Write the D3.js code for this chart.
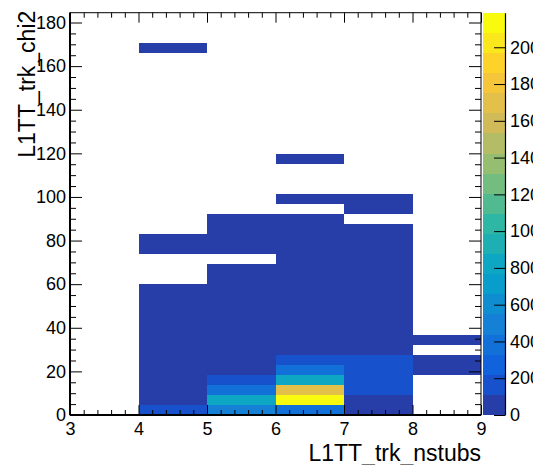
<!doctype html>
<html>
  <head>
    <script src="https://cdn.jsdelivr.net/npm/d3@7/dist/d3.min.js"></script>
    <style>
      body { margin: 0; background: #fff; }
      text { font-family: "Liberation Sans", Arial, Helvetica, sans-serif; fill: #000; }
    </style>
  </head>
  <body>
    <div id="viz">
      <svg width="533" height="465"></svg>
    </div>
    <script>
      // x bins: nstubs lower edges (bin width 1)
      var nstubs = [4, 5, 6, 7, 8];
      // y bins: 40 chi2 bins from 0 to chi2Max, counts listed from chi2 = 0 upward
      var chi2Max = 184.5;
      var chi2Bins = 40;
      var counts4 = [160, 95, 70, 48, 33, 24, 17, 12, 9, 7, 5, 4, 3, 0, 0, 0, 1, 1,
                     0, 0, 0, 0, 0, 0, 0, 0, 0, 0, 0, 0, 0, 0, 0, 0, 0, 0, 1];
      var counts5 = [480, 830, 390, 170, 90, 55, 36, 24, 16, 11, 8, 6, 4, 3, 2, 0, 2, 1, 1, 1];
      var counts6 = [370, 2188, 1700, 830, 400, 175, 95, 62, 40, 27, 19, 13, 9, 7, 5, 4,
                     3, 2, 2, 1, 0, 1, 0, 0, 0, 1];
      var counts7 = [60, 100, 150, 140, 130, 115, 80, 50, 32, 21, 14, 10, 7, 5, 4, 3,
                     2, 2, 1, 0, 1, 1];
      var counts8 = [0, 0, 0, 0, 30, 12, 0, 3];
      var counts = [counts4, counts5, counts6, counts7, counts8];

      var xTicks = [3, 4, 5, 6, 7, 8, 9];
      var yTicks = [0, 20, 40, 60, 80, 100, 120, 140, 160, 180];
      var zTicks = [0, 200, 400, 600, 800, 1000, 1200, 1400, 1600, 1800, 2000];
      var zMax = 2188;
      var nLevels = 20;

      // ROOT kBird palette stops
      var birdStops = [0, 0.125, 0.25, 0.375, 0.5, 0.625, 0.75, 0.875, 1];
      var birdR = [0.2082, 0.0592, 0.0780, 0.0232, 0.1802, 0.5301, 0.8186, 0.9956, 0.9764];
      var birdG = [0.1664, 0.3599, 0.5041, 0.6419, 0.7178, 0.7492, 0.7328, 0.7862, 0.9832];
      var birdB = [0.5293, 0.8684, 0.8385, 0.7914, 0.6425, 0.4662, 0.3499, 0.1968, 0.0539];

      var bird = d3.scaleLinear().domain(birdStops)
        .range(birdStops.map((s, i) => d3.rgb(birdR[i] * 255, birdG[i] * 255, birdB[i] * 255)));

      var bandColors = d3.range(nLevels).map(i => {
        var idx = Math.floor((i + 0.99) * 255 / nLevels);
        return d3.rgb(bird(Math.min(idx, 254) / 254)).formatHex();
      });

      var color = d3.scaleQuantize().domain([0, zMax]).range(bandColors);

      var padL = 70, padR = 481, padT = 12.7, padB = 415;

      var xScale = d3.scaleLinear().domain([3, 9]).range([padL, padR]);
      var yScale = d3.scaleLinear().domain([0, chi2Max]).range([padB, padT]);
      var zScale = d3.scaleLinear().domain([0, zMax]).range([padB, padT]);
      var dy = chi2Max / chi2Bins;
      var fmt = d3.format("d");

      var svg = d3.select("svg");

      // cells
      var cells = [];
      counts.forEach((col, ci) => {
        col.forEach((v, ri) => {
          if (v > 0) cells.push({ x: nstubs[ci], y: ri * dy, v: v });
        });
      });

      svg.append("g").selectAll("rect.cell")
        .data(cells).enter()
        .append("rect")
          .attr("class", "cell")
          .attr("x", d => xScale(d.x))
          .attr("y", d => yScale(d.y + dy))
          .attr("width", d => xScale(d.x + 1) - xScale(d.x))
          .attr("height", d => yScale(d.y) - yScale(d.y + dy))
          .attr("shape-rendering", "crispEdges")
          .style("fill", d => color(d.v));

      // frame
      svg.append("rect")
        .attr("x", padL).attr("y", padT)
        .attr("width", padR - padL).attr("height", padB - padT)
        .style("fill", "none").style("stroke", "#000").style("stroke-width", 1);

      // x axis (bottom) and mirrored ticks on top
      var xAxis = d3.axisBottom(xScale).tickValues(xTicks).tickSize(-10).tickPadding(7).tickFormat(fmt);
      var gx = svg.append("g").attr("transform", `translate(0,${padB})`).call(xAxis);
      gx.select(".domain").remove();
      gx.selectAll("text").style("font-size", "18px");

      var xMinor = d3.range(3, 9.001, 0.2).filter(v => Math.abs(v - Math.round(v)) > 0.01);
      svg.append("g").attr("transform", `translate(0,${padB})`)
        .call(d3.axisBottom(xScale).tickValues(xMinor).tickSize(-5).tickFormat(""))
        .select(".domain").remove();
      svg.append("g").attr("transform", `translate(0,${padT})`)
        .call(d3.axisTop(xScale).tickValues(xTicks).tickSize(-10).tickFormat(""))
        .select(".domain").remove();
      svg.append("g").attr("transform", `translate(0,${padT})`)
        .call(d3.axisTop(xScale).tickValues(xMinor).tickSize(-5).tickFormat(""))
        .select(".domain").remove();

      // y axis (left) and mirrored ticks on right
      var yMinor = d3.range(0, chi2Max, 5).filter(v => v % 20 !== 0);
      var gy = svg.append("g").attr("transform", `translate(${padL},0)`)
        .call(d3.axisLeft(yScale).tickValues(yTicks).tickSize(-12).tickPadding(4).tickFormat(fmt));
      gy.select(".domain").remove();
      gy.selectAll("text").style("font-size", "18px");
      svg.append("g").attr("transform", `translate(${padL},0)`)
        .call(d3.axisLeft(yScale).tickValues(yMinor).tickSize(-6).tickFormat(""))
        .select(".domain").remove();
      svg.append("g").attr("transform", `translate(${padR},0)`)
        .call(d3.axisRight(yScale).tickValues(yTicks).tickSize(-12).tickFormat(""))
        .select(".domain").remove();
      svg.append("g").attr("transform", `translate(${padR},0)`)
        .call(d3.axisRight(yScale).tickValues(yMinor).tickSize(-6).tickFormat(""))
        .select(".domain").remove();

      // thicker axis lines
      svg.append("line").attr("x1", padL).attr("x2", padR).attr("y1", padB).attr("y2", padB)
        .style("stroke", "#000").style("stroke-width", 2);
      svg.append("line").attr("x1", padL).attr("x2", padL).attr("y1", padT).attr("y2", padB)
        .style("stroke", "#000").style("stroke-width", 2);

      // axis titles
      svg.append("text")
        .attr("x", padR).attr("y", 461)
        .attr("text-anchor", "end")
        .style("font-size", "23px")
        .text("L1TT_trk_nstubs");
      svg.append("text")
        .attr("transform", `translate(35,${padT - 2}) rotate(-90)`)
        .attr("text-anchor", "end")
        .style("font-size", "23px")
        .text("L1TT_trk_chi2");

      // colour bar
      var cbLeft = 483, cbRight = 505;
      var dz = zMax / nLevels;
      svg.append("g").selectAll("rect.band")
        .data(bandColors).enter()
        .append("rect")
          .attr("class", "band")
          .attr("x", cbLeft)
          .attr("y", (d, i) => zScale((i + 1) * dz))
          .attr("width", cbRight - cbLeft)
          .attr("height", (d, i) => zScale(i * dz) - zScale((i + 1) * dz))
          .attr("shape-rendering", "crispEdges")
          .style("fill", d => d);

      var gz = svg.append("g").attr("transform", `translate(${cbRight},0)`)
        .call(d3.axisRight(zScale).tickValues(zTicks).tickSize(-11).tickPadding(5).tickSizeOuter(0).tickFormat(fmt));
      gz.select(".domain").style("stroke-width", 1.2);
      gz.selectAll("text").style("font-size", "18px");
    </script>
  </body>
</html>
